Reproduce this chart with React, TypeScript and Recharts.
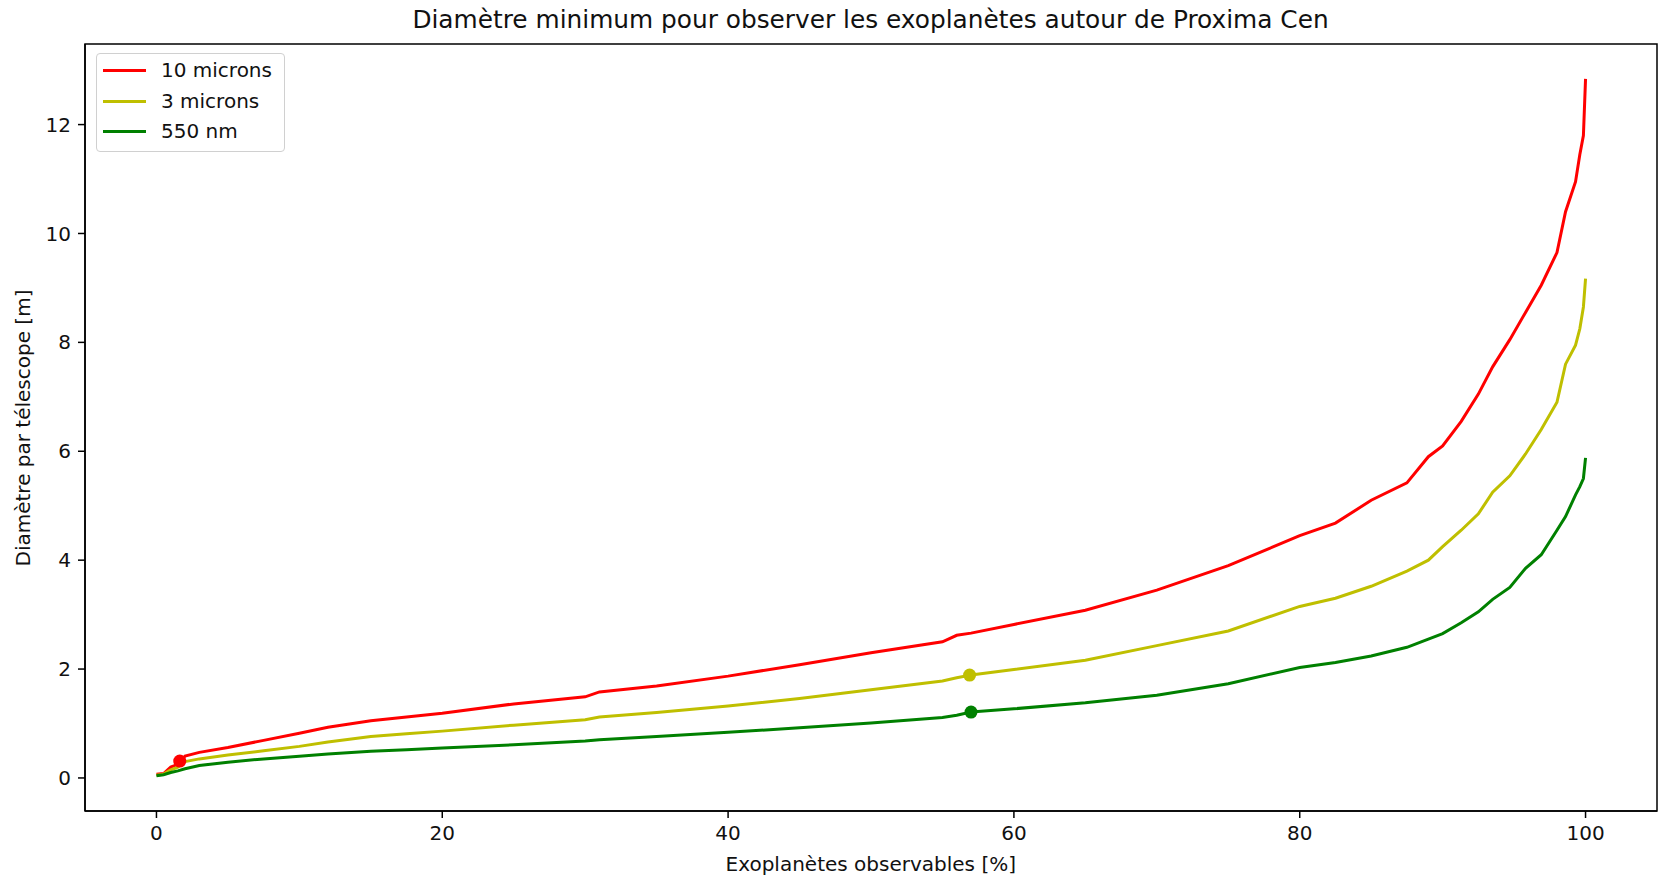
import React from 'react';
import { LineChart, Line, XAxis, YAxis, ReferenceDot, ReferenceArea, Label, Legend } from 'recharts';

const percentObservable = [0, 0.5, 1, 1.5, 2, 3, 5, 7.5, 10, 12, 15, 17.5, 20, 25, 30, 31, 35, 40, 45, 50, 55, 56, 57, 60, 65, 70, 75, 80, 82.5, 85, 87.5, 89, 90, 91.3, 92.5, 93.5, 94.7, 95.8, 96.9, 98, 98.6, 99.3, 99.6, 99.85, 100];

const diameter10um = [0.07, 0.08, 0.2, 0.25, 0.4, 0.47, 0.56, 0.69, 0.82, 0.93, 1.05, 1.12, 1.19, 1.36, 1.49, 1.58, 1.69, 1.87, 2.08, 2.3, 2.5, 2.62, 2.66, 2.82, 3.08, 3.45, 3.9, 4.45, 4.68, 5.1, 5.42, 5.9, 6.1, 6.55, 7.05, 7.55, 8.05, 8.55, 9.05, 9.65, 10.4, 10.95, 11.45, 11.8, 12.84];

const diameter3um = [0.05, 0.07, 0.15, 0.2, 0.3, 0.35, 0.42, 0.5, 0.58, 0.66, 0.76, 0.81, 0.86, 0.97, 1.07, 1.12, 1.2, 1.32, 1.46, 1.62, 1.78, 1.84, 1.89, 1.99, 2.16, 2.43, 2.7, 3.15, 3.3, 3.52, 3.8, 4.0, 4.25, 4.55, 4.85, 5.25, 5.55, 5.95, 6.4, 6.9, 7.6, 7.95, 8.25, 8.65, 9.17];

const diameter550nm = [0.04, 0.06, 0.1, 0.13, 0.17, 0.23, 0.29, 0.35, 0.4, 0.44, 0.49, 0.52, 0.55, 0.61, 0.68, 0.7, 0.76, 0.84, 0.92, 1.01, 1.11, 1.15, 1.21, 1.27, 1.38, 1.52, 1.73, 2.03, 2.12, 2.24, 2.4, 2.55, 2.65, 2.85, 3.05, 3.28, 3.5, 3.85, 4.1, 4.55, 4.8, 5.2, 5.35, 5.5, 5.88];

const xTicks = [0, 20, 40, 60, 80, 100];
const yTicks = [0, 2, 4, 6, 8, 10, 12];
const xDomain = [-5, 105];
const yDomain = [-0.607, 13.48];

const seriesNames = ['10 microns', '3 microns', '550 nm'];
const seriesKeys = ['d10', 'd3', 'd055'];
const seriesColors = ['#ff0000', '#bfbf00', '#008000'];

const markerX = [1.63, 56.9, 57.0];
const markerY = [0.31, 1.89, 1.21];

const titleText = 'Diamètre minimum pour observer les exoplanètes autour de Proxima Cen';
const xLabelText = 'Exoplanètes observables [%]';
const yLabelText = 'Diamètre par télescope [m]';

const data = percentObservable.map((x, i) => ({
  x,
  d10: diameter10um[i],
  d3: diameter3um[i],
  d055: diameter550nm[i],
}));

const FONT = "'DejaVu Sans', sans-serif";
const TEXT = '#111';

const LegendBox = () => (
  <div
    style={{
      width: 187,
      height: 97,
      border: '1px solid #d0d0d0',
      borderRadius: 4,
      background: 'rgba(255,255,255,0.8)',
      fontFamily: FONT,
      fontSize: 20,
      color: TEXT,
      position: 'relative',
    }}
  >
    {seriesNames.map((n, i) => (
      <div key={n} style={{ position: 'absolute', left: 0, top: 2 + i * 30.5, height: 30, width: '100%' }}>
        <div style={{ position: 'absolute', left: 6, top: 13, width: 43, height: 3, background: seriesColors[i] }} />
        <div style={{ position: 'absolute', left: 64, top: 1, lineHeight: '26px', whiteSpace: 'nowrap' }}>{n}</div>
      </div>
    ))}
  </div>
);

export default function App() {
  return (
    <div style={{ position: 'absolute', left: 0, top: 0, width: 1662, height: 877, background: '#fff' }}>
      <div
        style={{
          position: 'absolute',
          left: 0,
          top: 6,
          width: 1741,
          textAlign: 'center',
          fontFamily: FONT,
          fontSize: 24.8,
          lineHeight: '28px',
          color: TEXT,
          whiteSpace: 'nowrap',
        }}
      >
        {titleText}
      </div>
      <LineChart width={1662} height={877} data={data} margin={{ top: 44, right: 5, bottom: 0, left: 0 }}>
        <XAxis
          dataKey="x"
          type="number"
          domain={xDomain}
          ticks={xTicks}
          height={66}
          tickSize={7}
          tickMargin={8}
          allowDataOverflow
          axisLine={{ stroke: '#000', strokeWidth: 1.5 }}
          tickLine={{ stroke: '#000', strokeWidth: 1.5 }}
          tick={{ fill: TEXT, fontSize: 20, fontFamily: FONT }}
        >
          <Label
            content={() => (
              <text x={870.8} y={864} textAnchor="middle" dominantBaseline="central" fontSize={20} fontFamily={FONT} fill={TEXT}>
                {xLabelText}
              </text>
            )}
          />
        </XAxis>
        <YAxis
          type="number"
          domain={yDomain}
          ticks={yTicks}
          width={85}
          tickSize={7}
          tickMargin={7}
          allowDataOverflow
          axisLine={{ stroke: '#000', strokeWidth: 1.5 }}
          tickLine={{ stroke: '#000', strokeWidth: 1.5 }}
          tick={{ fill: TEXT, fontSize: 20, fontFamily: FONT }}
        >
          <Label
            content={() => (
              <text
                x={23}
                y={428}
                transform="rotate(-90 23 428)"
                textAnchor="middle"
                dominantBaseline="central"
                fontSize={20}
                fontFamily={FONT}
                fill={TEXT}
              >
                {yLabelText}
              </text>
            )}
          />
        </YAxis>
        <ReferenceArea
          x1={xDomain[0]}
          x2={xDomain[1]}
          y1={yDomain[0]}
          y2={yDomain[1]}
          fill="none"
          fillOpacity={0}
          stroke="#000"
          strokeWidth={1.5}
          ifOverflow="visible"
        />
        <Legend
          layout="horizontal"
          verticalAlign="middle"
          align="center"
          wrapperStyle={{ position: 'absolute', left: 96, top: 53, width: 189, height: 99 }}
          content={() => <LegendBox />}
        />
        {seriesKeys.map((k, i) => (
          <Line
            key={k}
            dataKey={k}
            name={seriesNames[i]}
            type="linear"
            stroke={seriesColors[i]}
            strokeWidth={3}
            dot={false}
            activeDot={false}
            isAnimationActive={false}
          />
        ))}
        {markerX.map((mx, i) => (
          <ReferenceDot key={i} x={mx} y={markerY[i]} r={6.5} fill={seriesColors[i]} stroke="none" />
        ))}
      </LineChart>
    </div>
  );
}
